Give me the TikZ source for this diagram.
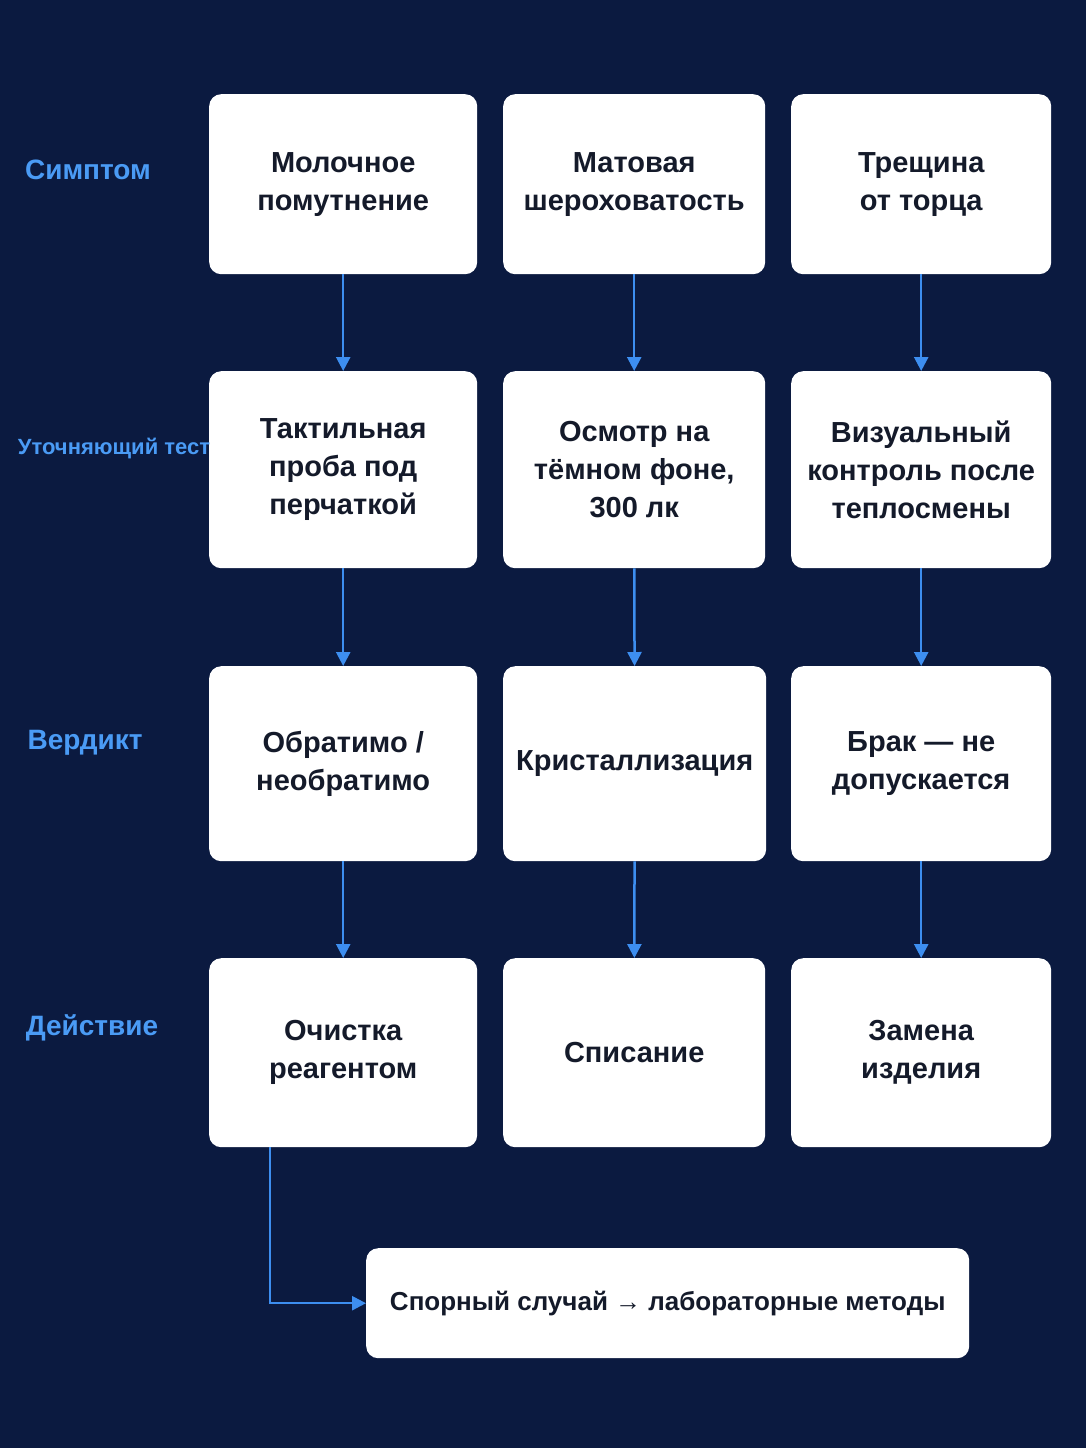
\documentclass[tikz,border=0pt]{standalone}
\usepackage{fontspec}
\setmainfont{Liberation Sans}
\usetikzlibrary{arrows.meta}
\definecolor{bg}{HTML}{0B1A40}
\definecolor{ab}{HTML}{3D8EF0}
\definecolor{lb}{HTML}{4A9BF5}
\definecolor{tx}{HTML}{141A2A}
\begin{document}
\begin{tikzpicture}[x=1pt,y=-1pt,
 box/.style={fill=white,rounded corners=12pt,minimum width=#1,inner sep=0pt,align=center,text=tx,font=\fontsize{29}{38}\selectfont\bfseries,anchor=north west},
 lab/.style={text=lb,font=\fontsize{28}{32}\selectfont\bfseries},
 arr/.style={draw=ab,line width=2.5pt,-{Triangle[length=14pt,width=14pt]}}]
\fill[bg] (0,0) rectangle (1086,1448);
\useasboundingbox (0,0) rectangle (1086,1448);
% row 1
\node[box=268pt,minimum height=180pt] (a1) at (209,94) {Молочное\\помутнение};
\node[box=262pt,minimum height=180pt] (b1) at (503,94) {Матовая\\шероховатость};
\node[box=260pt,minimum height=180pt] (c1) at (791,94) {Трещина\\от торца};
% row 2
\node[box=268pt,minimum height=197pt] (a2) at (209,371) {Тактильная\\проба под\\перчаткой};
\node[box=262pt,minimum height=197pt] (b2) at (503,371) {Осмотр на\\тёмном фоне,\\300 лк};
\node[box=260pt,minimum height=197pt] (c2) at (791,371) {Визуальный\\контроль после\\теплосмены};
% row 3
\node[box=268pt,minimum height=195pt] (a3) at (209,666) {Обратимо /\\необратимо};
\node[box=263pt,minimum height=195pt] (b3) at (503,666) {Кристаллизация};
\node[box=260pt,minimum height=195pt] (c3) at (791,666) {Брак — не\\допускается};
% row 4
\node[box=268pt,minimum height=189pt] (a4) at (209,958) {Очистка\\реагентом};
\node[box=262pt,minimum height=189pt] (b4) at (503,958) {Списание};
\node[box=260pt,minimum height=189pt] (c4) at (791,958) {Замена\\изделия};
% bottom
\node[box=603pt,minimum height=110pt,font=\fontsize{26}{30}\selectfont\bfseries] (d) at (366,1248) {Спорный случай → лабораторные методы};
% labels
\node[lab] (l1) at (88,170) {Симптом};
\node[lab,font=\fontsize{22}{26}\selectfont\bfseries] (l2) at (114,448) {Уточняющий тест};
\node[lab] (l3) at (85,743) {Вердикт};
\node[lab] (l4) at (92,1028) {Действие};
% arrows
\foreach \c in {a,b,c}{
 \draw[arr] (\c1) -- (\c2);
 \draw[arr] (\c2) -- (\c3);
 \draw[arr] (\c3) -- (\c4);
}
\coordinate (s) at (270,1147);
\draw[arr] (s) |- (d.west);
\end{tikzpicture}
\end{document}
